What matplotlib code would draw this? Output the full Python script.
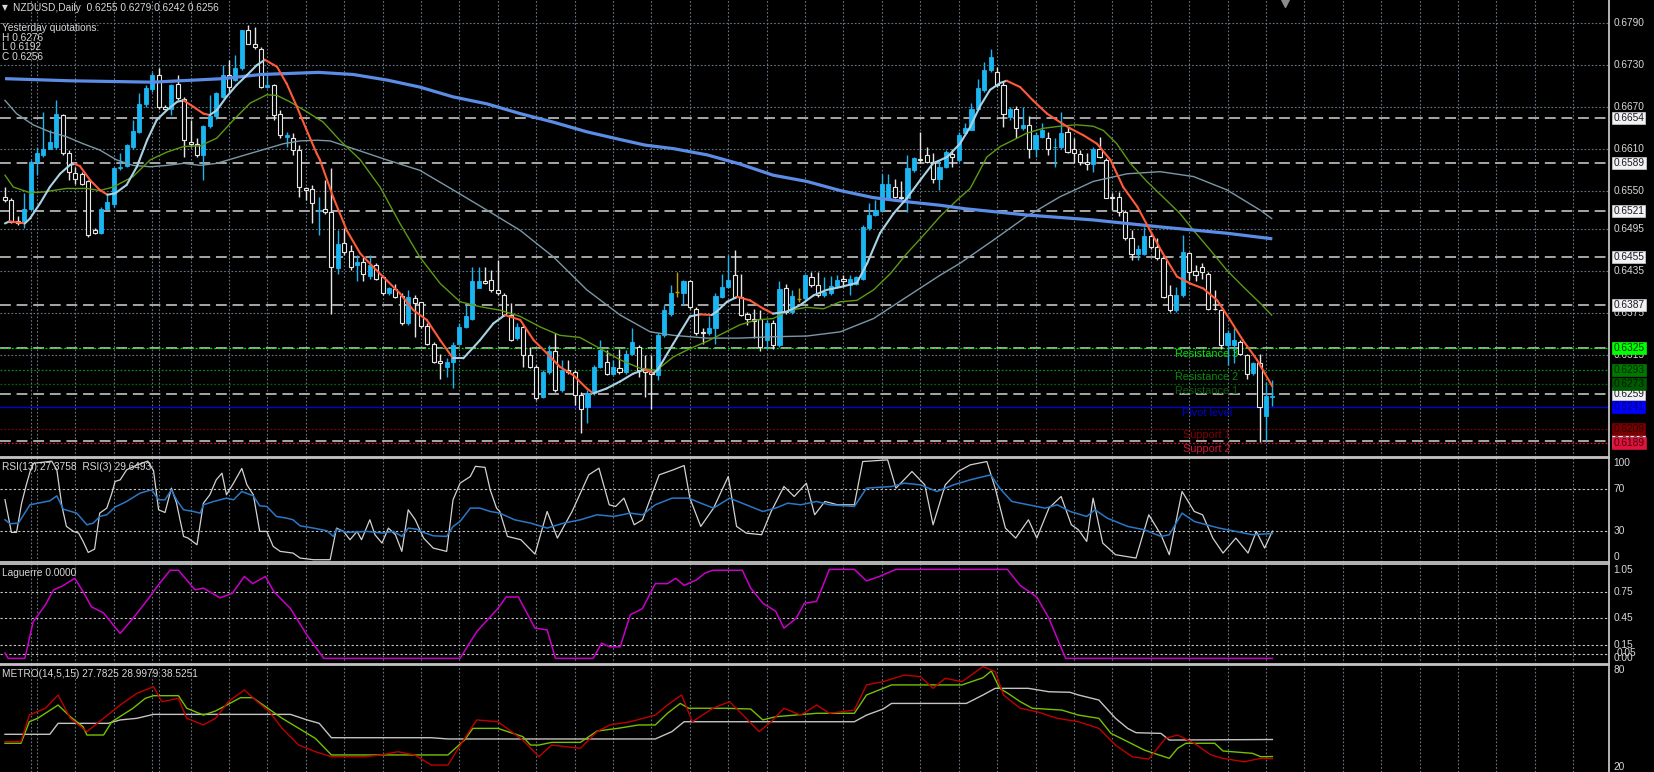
import matplotlib
matplotlib.use("Agg")
import matplotlib.pyplot as plt
import matplotlib.transforms as mtransforms
from matplotlib.collections import LineCollection
import numpy as np

plt.rcParams['font.family'] = ['Liberation Sans', 'DejaVu Sans']

# NZDUSD daily candles, prices in pips (x 1e-4)
open_pips = [
    6541, 6536, 6507, 6505, 6524, 6591, 6601, 6610, 6613, 6658,
    6603, 6575, 6574, 6563, 6493, 6489, 6524, 6531, 6582, 6585,
    6613, 6634, 6674, 6695, 6715, 6670, 6667, 6703, 6681, 6620,
    6617, 6601, 6642, 6656, 6684, 6715, 6708, 6725, 6780, 6760,
    6753, 6698, 6701, 6660, 6627, 6625, 6608, 6553, 6552, 6521,
    6523, 6520, 6439, 6475, 6464, 6443, 6448, 6428, 6443, 6426,
    6403, 6409, 6399, 6361, 6396, 6390, 6356, 6331, 6306, 6298,
    6305, 6331, 6355, 6367, 6411, 6420, 6422, 6408, 6401, 6372,
    6339, 6355, 6315, 6298, 6255, 6291, 6320, 6265, 6293, 6291,
    6258, 6240, 6260, 6298, 6305, 6288, 6296, 6291, 6317, 6327,
    6293, 6291, 6286, 6343, 6374, 6405, 6403, 6420, 6381, 6348,
    6346, 6353, 6398, 6412, 6429, 6398, 6373, 6366, 6366, 6336,
    6360, 6329, 6410, 6377, 6395, 6396, 6427, 6415, 6400, 6403,
    6413, 6423, 6415, 6417, 6424, 6496, 6515, 6522, 6539, 6555,
    6541, 6539, 6579, 6595, 6601, 6591, 6566, 6584, 6602, 6594,
    6632, 6637, 6667, 6694, 6722, 6720, 6701, 6655, 6667, 6639,
    6644, 6610, 6626, 6625, 6612, 6613, 6634, 6609, 6602, 6591,
    6588, 6610, 6594, 6541, 6541, 6520, 6482, 6459, 6460, 6485,
    6470, 6453, 6400, 6379, 6400, 6461, 6435, 6441, 6431, 6381,
    6379, 6329, 6329, 6334, 6315, 6289, 6303, 6227, 6255]
high_pips = [
    6555, 6539, 6513, 6546, 6594, 6613, 6663, 6637, 6679, 6660,
    6608, 6584, 6577, 6565, 6496, 6527, 6546, 6584, 6603, 6617,
    6651, 6689, 6701, 6720, 6725, 6672, 6703, 6715, 6684, 6651,
    6625, 6644, 6687, 6691, 6729, 6737, 6744, 6780, 6787, 6784,
    6756, 6715, 6703, 6665, 6634, 6632, 6615, 6555, 6558, 6541,
    6565, 6582, 6493, 6496, 6472, 6458, 6455, 6458, 6446, 6429,
    6412, 6417, 6403, 6408, 6400, 6391, 6360, 6334, 6317, 6310,
    6334, 6360, 6386, 6441, 6441, 6441, 6437, 6451, 6403, 6389,
    6360, 6358, 6327, 6300, 6293, 6329, 6346, 6308, 6308, 6293,
    6262, 6265, 6300, 6336, 6322, 6308, 6324, 6322, 6353, 6329,
    6315, 6315, 6346, 6386, 6415, 6434, 6422, 6422, 6384, 6353,
    6370, 6403, 6431, 6458, 6465, 6431, 6377, 6381, 6379, 6365,
    6365, 6420, 6417, 6408, 6410, 6431, 6434, 6434, 6427, 6428,
    6429, 6429, 6429, 6428, 6501, 6532, 6536, 6574, 6574, 6567,
    6563, 6601, 6598, 6634, 6613, 6603, 6594, 6608, 6610, 6634,
    6646, 6675, 6710, 6734, 6753, 6727, 6706, 6670, 6671, 6670,
    6656, 6634, 6646, 6634, 6625, 6663, 6641, 6625, 6608, 6603,
    6613, 6627, 6596, 6546, 6548, 6522, 6493, 6472, 6498, 6491,
    6482, 6458, 6415, 6412, 6486, 6462, 6443, 6446, 6434, 6408,
    6381, 6350, 6353, 6336, 6317, 6305, 6317, 6276, 6279]
low_pips = [
    6534, 6503, 6501, 6496, 6522, 6572, 6598, 6609, 6610, 6601,
    6565, 6560, 6558, 6484, 6488, 6488, 6523, 6527, 6579, 6584,
    6610, 6632, 6670, 6691, 6667, 6665, 6658, 6680, 6598, 6613,
    6598, 6565, 6639, 6653, 6682, 6691, 6706, 6722, 6759, 6753,
    6696, 6696, 6651, 6625, 6613, 6601, 6541, 6536, 6503, 6486,
    6517, 6374, 6431, 6458, 6436, 6420, 6420, 6424, 6422, 6400,
    6400, 6396, 6358, 6358, 6341, 6353, 6329, 6303, 6281, 6284,
    6267, 6329, 6353, 6365, 6410, 6417, 6405, 6400, 6370, 6335,
    6336, 6298, 6296, 6250, 6253, 6288, 6262, 6262, 6288, 6243,
    6203, 6217, 6258, 6296, 6286, 6286, 6288, 6288, 6315, 6284,
    6255, 6238, 6279, 6341, 6370, 6398, 6386, 6381, 6343, 6331,
    6343, 6331, 6396, 6410, 6396, 6370, 6358, 6339, 6320, 6324,
    6324, 6327, 6374, 6374, 6391, 6393, 6412, 6398, 6398, 6400,
    6410, 6412, 6400, 6415, 6422, 6493, 6513, 6520, 6537, 6539,
    6536, 6520, 6577, 6589, 6589, 6561, 6551, 6582, 6584, 6591,
    6629, 6636, 6665, 6691, 6720, 6698, 6641, 6651, 6625, 6637,
    6596, 6598, 6625, 6601, 6584, 6610, 6603, 6589, 6586, 6579,
    6577, 6596, 6539, 6522, 6513, 6479, 6451, 6451, 6458, 6467,
    6451, 6396, 6377, 6377, 6398, 6422, 6420, 6424, 6379, 6379,
    6324, 6300, 6303, 6315, 6281, 6286, 6191, 6192, 6242]
close_pips = [
    6536, 6505, 6504, 6524, 6591, 6603, 6610, 6620, 6660, 6603,
    6577, 6567, 6560, 6486, 6490, 6524, 6533, 6582, 6584, 6615,
    6635, 6674, 6696, 6715, 6670, 6667, 6701, 6682, 6622, 6617,
    6601, 6642, 6656, 6689, 6715, 6698, 6725, 6780, 6760, 6756,
    6698, 6701, 6658, 6629, 6629, 6608, 6555, 6551, 6532, 6522,
    6520, 6441, 6474, 6462, 6441, 6448, 6431, 6443, 6424, 6403,
    6410, 6398, 6361, 6398, 6389, 6356, 6331, 6305, 6304, 6305,
    6329, 6355, 6370, 6420, 6420, 6418, 6408, 6403, 6372, 6336,
    6355, 6315, 6298, 6253, 6291, 6321, 6265, 6293, 6291, 6258,
    6238, 6260, 6298, 6322, 6288, 6297, 6291, 6317, 6334, 6293,
    6291, 6287, 6343, 6379, 6403, 6405, 6421, 6384, 6346, 6346,
    6353, 6399, 6412, 6422, 6398, 6372, 6367, 6364, 6327, 6360,
    6329, 6409, 6377, 6399, 6395, 6429, 6415, 6400, 6405, 6413,
    6422, 6420, 6424, 6426, 6498, 6515, 6522, 6560, 6560, 6541,
    6539, 6582, 6596, 6593, 6591, 6567, 6584, 6605, 6598, 6629,
    6639, 6667, 6696, 6722, 6741, 6701, 6660, 6667, 6639, 6644,
    6610, 6629, 6636, 6610, 6613, 6632, 6605, 6603, 6591, 6588,
    6610, 6598, 6540, 6540, 6520, 6482, 6460, 6466, 6485, 6470,
    6453, 6398, 6379, 6400, 6462, 6434, 6429, 6434, 6381, 6380,
    6329, 6346, 6336, 6317, 6288, 6303, 6241, 6256, 6256]

# moving averages: (bar index, pips)
ma_fast = [(0, 6503), (0.7, 6506), (3.1, 6503), (3.9, 6510), (5.5, 6532), (7.0, 6555), (8.6, 6574),
           (10.2, 6587), (10.9, 6588), (11.7, 6585), (13.3, 6565), (14.8, 6551), (16.0, 6544), (17.2, 6546),
           (19.0, 6558), (20.6, 6584), (22.2, 6622), (23.7, 6651), (25.3, 6665), (26.9, 6677), (27.9, 6679),
           (29.4, 6670), (31.0, 6660), (32.0, 6658), (33.1, 6665), (34.6, 6684), (36.2, 6701), (37.8, 6715),
           (39.3, 6729), (40.6, 6737), (42.5, 6727), (44.0, 6703), (45.6, 6670), (47.1, 6637), (48.7, 6603),
           (49.2, 6594), (51.3, 6540), (53.4, 6493), (55.5, 6460), (57.5, 6441), (59.6, 6422), (61.7, 6403),
           (63.8, 6379), (65.9, 6365), (68.0, 6336), (70.0, 6310), (71.6, 6310), (74.2, 6336), (76.3, 6360),
           (78.1, 6372), (80.5, 6365), (82.6, 6336), (84.7, 6317), (86.7, 6298), (88.8, 6286), (90.9, 6267),
           (91.9, 6260), (94.0, 6267), (96.1, 6277), (98.1, 6288), (99.9, 6294), (101.3, 6289), (102.0, 6294),
           (104.4, 6331), (107.0, 6370), (108.6, 6373), (110.4, 6372), (111.2, 6377), (112.8, 6391),
           (114.4, 6398), (116.4, 6393), (118.5, 6381), (120.0, 6374), (122.2, 6377), (124.2, 6386),
           (126.3, 6400), (128.4, 6408), (130.5, 6412), (133.1, 6418), (134.7, 6446), (136.7, 6489),
           (138.8, 6517), (140.9, 6539), (143.0, 6565), (145.0, 6589), (147.2, 6598), (149.2, 6617),
           (150.8, 6641), (152.3, 6670), (153.9, 6694), (155.5, 6704), (156.5, 6707), (158.6, 6698),
           (160.6, 6679), (162.8, 6660), (164.8, 6648), (166.4, 6639), (168.5, 6629), (170.6, 6617),
           (172.7, 6594), (174.7, 6555), (176.9, 6527), (178.9, 6493), (180.9, 6460), (183.1, 6427),
           (185.2, 6417), (187.2, 6410), (189.4, 6393), (191.4, 6365), (193.4, 6336), (195.6, 6308), (198.0, 6270)]
ma_mid = [(0, 6572), (1.3, 6555), (3.9, 6547), (6.0, 6548), (9.6, 6553), (12.8, 6553), (14.8, 6550),
          (16.9, 6555), (20.0, 6570), (22.7, 6594), (25.3, 6605), (27.9, 6613), (30.5, 6614), (33.1, 6625),
          (35.7, 6651), (38.3, 6675), (40.9, 6687), (42.5, 6686), (44.5, 6677), (47.1, 6663), (49.7, 6648),
          (52.3, 6622), (55.5, 6594), (58.6, 6555), (61.7, 6503), (64.8, 6455), (68.0, 6417), (71.1, 6391),
          (74.2, 6384), (77.3, 6379), (80.5, 6370), (83.6, 6355), (86.7, 6343), (89.8, 6340), (93.0, 6324),
          (96.1, 6308), (99.2, 6296), (101.8, 6293), (104.4, 6312), (107.0, 6324), (109.6, 6334),
          (112.2, 6346), (114.8, 6358), (117.4, 6365), (120.0, 6367), (122.6, 6379), (125.3, 6383),
          (127.9, 6381), (130.5, 6391), (133.1, 6393), (135.7, 6408), (138.3, 6431), (140.9, 6460),
          (143.5, 6486), (146.1, 6513), (148.7, 6536), (150.8, 6553), (153.4, 6598), (155.5, 6613),
          (157.5, 6622), (159.6, 6632), (162.2, 6639), (164.8, 6642), (167.4, 6644), (170.0, 6642),
          (171.6, 6636), (173.7, 6617), (175.8, 6589), (178.4, 6563), (180.9, 6541), (183.6, 6517),
          (185.7, 6493), (188.3, 6465), (190.9, 6436), (193.5, 6412), (196.1, 6389), (197.9, 6372)]
ma_slow = [(0, 6679), (1.8, 6660), (4.4, 6644), (7.0, 6634), (9.6, 6627), (12.2, 6617), (14.8, 6608),
           (17.4, 6594), (20.0, 6586), (22.7, 6584), (25.3, 6586), (27.9, 6589), (30.5, 6586), (33.1, 6589),
           (35.7, 6596), (38.3, 6603), (40.9, 6610), (43.5, 6617), (46.1, 6621), (48.7, 6622), (50.8, 6621),
           (54.4, 6610), (59.6, 6594), (64.8, 6579), (70.0, 6551), (75.3, 6522), (80.5, 6493), (85.7, 6455),
           (90.9, 6408), (96.1, 6372), (100.8, 6348), (104.4, 6343), (109.6, 6339), (114.8, 6339),
           (120.0, 6341), (125.3, 6342), (130.5, 6348), (135.7, 6367), (140.9, 6398), (146.1, 6429),
           (149.2, 6446), (154.4, 6479), (159.6, 6513), (164.8, 6541), (170.0, 6563), (175.3, 6574),
           (180.5, 6577), (185.7, 6570), (190.9, 6551), (196.1, 6522), (197.9, 6510)]
ma_long = [(0, 6710), (10, 6707), (23, 6705), (34, 6710), (40, 6716), (49, 6719), (54.4, 6716), (59.7, 6708),
           (64.8, 6698), (70, 6684), (75.3, 6674), (80.5, 6660), (85.6, 6648), (90.9, 6634), (96.1, 6623),
           (100, 6615), (104.4, 6610), (109.7, 6601), (114.8, 6588), (120, 6572), (125.3, 6563), (130.5, 6550),
           (135.6, 6540), (140.9, 6534), (146.1, 6529), (150, 6524), (159.7, 6515), (170, 6508), (180.5, 6498),
           (190.9, 6489), (198, 6481)]

# price levels
grid_prices = [0.6790, 0.6730, 0.6670, 0.6610, 0.6550, 0.6495, 0.6435, 0.6375, 0.6315]
marked_levels = [0.6654, 0.6589, 0.6521, 0.6455, 0.6387, 0.6325, 0.6259, 0.6192]
pivot_names = ['Resistance 3', 'Resistance 2', 'Resistance 1', 'Pivot level', 'Support 1', 'Support 2']
pivot_values = [0.6325, 0.6293, 0.6273, 0.6241, 0.6209, 0.6189]
pivot_colors = ['#00e000', '#0a8a0a', '#0b5e0b', '#0000d0', '#800000', '#d01434']
pivot_box = ['#00ff00', '#007800', '#005800', '#0000ff', '#780000', '#dc143c']
pivot_box_text = ['#003000', '#002800', '#001c00', '#000070', '#300000', '#500010']

# oscillators: (bar index, value)
rsi3 = [(0, 60), (1.0, 28.5), (1.8, 28.5), (2.6, 56.6), (3.4, 75.8), (4.0, 88.6), (4.5, 95), (6.0, 96),
        (7.3, 97), (8.1, 88.6), (8.9, 53.4), (9.6, 34.2), (10.7, 29.4), (11.5, 27.8), (12.2, 19.8),
        (13.0, 9.2), (14.0, 12.4), (14.8, 47), (15.9, 51.8), (16.7, 66.2), (17.2, 77.4), (18.0, 79),
        (19.0, 88.6), (20.5, 93), (22.3, 97), (23.2, 88), (24.0, 50.2), (25.0, 47.6), (26.0, 71), (26.8, 56.6),
        (27.9, 24.6), (28.6, 23), (30.0, 16.6), (31.0, 56.6), (32.0, 64.6), (33.0, 79), (33.9, 85.4),
        (34.6, 64.6), (35.7, 75.8), (37.0, 90), (37.8, 74.2), (38.8, 64.6), (39.8, 29.4), (40.9, 29.4),
        (41.9, 15), (43.0, 10.2), (45.0, 8.6), (46.1, 3.8), (48.2, 2.2), (50.8, 2.2), (51.8, 32.6),
        (52.9, 29.4), (53.9, 21.4), (55.0, 29.4), (55.7, 21.4), (57.0, 40.6), (57.8, 26.2), (58.9, 18.2),
        (59.9, 32.6), (61.0, 26.2), (62.0, 10.2), (63.0, 50.2), (64.1, 40.6), (65.4, 23), (66.9, 13.4),
        (69.0, 10.2), (70.0, 59.8), (71.1, 75.8), (72.7, 82.2), (73.5, 92), (75.0, 91), (75.8, 69.4),
        (76.8, 51.8), (77.3, 48.6), (78.5, 24.6), (80.6, 21.4), (82.8, 7.6), (84.7, 48.6), (86.3, 23),
        (88.6, 48.6), (91.2, 83.8), (92.8, 90.2), (94.4, 55), (95.4, 53.4), (96.7, 61.4), (98.3, 35.8),
        (99.6, 40.6), (102.2, 83.8), (104.4, 88.6), (106.1, 92.8), (107.0, 61.4), (108.7, 34.2),
        (110.7, 51.8), (113.0, 82.2), (114.3, 34.2), (115.8, 27.8), (118.2, 26.2), (119.7, 48.6),
        (121.7, 72.6), (123.3, 63), (125.2, 75.8), (126.5, 45.4), (128.1, 58.2), (130.1, 55), (132.7, 55),
        (134.0, 96.6), (137.9, 98.2), (139.2, 71), (141.7, 87), (143.7, 74.2), (145.0, 35.8), (146.9, 74.2),
        (148.9, 87), (150.8, 93.4), (153.4, 96.6), (154.7, 71), (156.3, 32.6), (157.9, 23), (159.9, 40.6),
        (161.2, 23), (163.1, 51.8), (165.0, 63), (166.6, 35.8), (167.7, 31), (169.0, 19.8), (170.0, 61.4),
        (171.5, 18.2), (173.5, 7), (176.7, 3.8), (178.7, 45.4), (180.6, 26.2), (181.9, 7), (183.9, 67.8),
        (185.8, 48.6), (187.1, 45.4), (188.7, 23), (190.3, 8.6), (192.3, 23), (194.2, 8.6), (195.5, 29.4),
        (196.8, 13.4), (198.0, 29.6)]
rsi13 = [(0, 40.6), (0.8, 36.8), (2.1, 37.4), (3.9, 55), (7.0, 58.8), (8.1, 63.6), (9.1, 50.8), (11.2, 47),
         (12.8, 35.8), (13.8, 37.4), (14.8, 43.8), (15.9, 45.4), (17.2, 52.8), (19.0, 58.2), (21.1, 66.2),
         (22.9, 69.4), (24.0, 59.8), (25.0, 59.8), (26.0, 69.4), (26.8, 59.8), (27.9, 50.2), (29.4, 48.6),
         (30.5, 47), (31.0, 55), (32.6, 58.2), (34.6, 61.4), (35.7, 59.8), (37.0, 67.8), (38.8, 63.6),
         (39.8, 54), (40.9, 53.4), (42.4, 43.8), (44.0, 42.2), (45.0, 40.6), (46.1, 34.8), (48.2, 32.6),
         (50.3, 30), (51.3, 24.6), (51.8, 31.6), (53.4, 28.4), (56.5, 29.4), (59.1, 27.8), (60.7, 29.4),
         (62.0, 24.6), (63.0, 32.6), (64.3, 31.6), (65.4, 28.4), (66.9, 25.2), (69.0, 24.6), (70.0, 34.2),
         (71.1, 39), (72.7, 51.8), (74.2, 51.8), (75.8, 48.6), (77.3, 47), (79.6, 40.6), (82.1, 37.4),
         (84.7, 32.6), (87.3, 37.4), (89.9, 40.6), (92.5, 45.4), (95.1, 43.8), (97.7, 47), (99.6, 45.4),
         (101.6, 55), (104.2, 61.4), (106.8, 61.4), (108.7, 56.6), (110.7, 51.8), (113.2, 61.4), (115.8, 55),
         (118.4, 48.6), (120.4, 51.8), (122.3, 56.6), (124.3, 55), (126.8, 58.2), (128.8, 55), (132.7, 53.4),
         (134.6, 71), (138.5, 72.6), (140.5, 75.8), (143.0, 74.2), (145.6, 67.8), (148.2, 74.2), (150.8, 79),
         (154.0, 83.8), (155.4, 71), (157.3, 58.2), (159.9, 55), (162.5, 51.8), (164.4, 55), (166.4, 48.6),
         (169.0, 43.8), (170.3, 50.2), (172.2, 42.2), (175.4, 34.2), (178.0, 31), (180.6, 24.6), (181.9, 26.2),
         (183.9, 47), (185.8, 39), (187.7, 35.8), (189.7, 32.6), (192.3, 29.4), (194.9, 26.2), (198.0, 27.4)]
laguerre = [(0, 0.06), (0.5, 0), (3.1, 0), (4.4, 0.41), (6.3, 0.6), (7.6, 0.77), (8.9, 0.81), (10.9, 0.9),
            (12.2, 0.75), (13.5, 0.58), (15.4, 0.51), (18.0, 0.28), (20.0, 0.45), (22.5, 0.68), (23.8, 0.81),
            (25.8, 0.99), (27.1, 0.99), (29.7, 0.77), (31.0, 0.79), (33.6, 0.68), (35.5, 0.73), (37.4, 0.92),
            (38.7, 0.84), (40.7, 0.92), (42.0, 0.75), (44.6, 0.56), (47.2, 0.26), (49.8, 0), (71.1, 0),
            (73.7, 0.3), (77.0, 0.56), (78.3, 0.69), (80.2, 0.69), (82.8, 0.34), (84.7, 0.32), (86.0, 0),
            (91.9, 0), (93.2, 0.17), (94.5, 0.13), (96.1, 0.13), (97.7, 0.49), (99.6, 0.56), (101.6, 0.84),
            (103.5, 0.84), (104.8, 0.9), (106.1, 0.82), (108.0, 0.88), (109.4, 0.96), (110.6, 0.99),
            (115.2, 0.99), (116.5, 0.79), (118.4, 0.62), (120.4, 0.53), (121.7, 0.34), (123.6, 0.45),
            (124.9, 0.62), (126.8, 0.64), (128.8, 1.0), (132.7, 1.0), (134.6, 0.87), (136.6, 0.92),
            (139.2, 1.0), (156.6, 1.0), (158.6, 0.82), (161.2, 0.69), (163.1, 0.45), (165.7, 0), (198.0, 0)]
metro_slow = [(0, 41.4), (7.0, 41.4), (8.3, 47.5), (16.1, 47.5), (18.0, 49.4), (20.6, 50.3), (23.2, 52.5),
              (44.6, 52.5), (47.2, 49.4), (49.1, 47.5), (51.0, 39.5), (66.6, 39.5), (69.2, 38.8), (101.6, 38.8),
              (104.2, 42.9), (106.1, 48.4), (132.7, 48.4), (134.6, 52.1), (137.2, 55.5), (138.5, 58.6),
              (150.2, 58.6), (152.8, 63.3), (154.7, 67.0), (159.9, 67.0), (163.1, 65.1), (166.4, 64.8),
              (167.7, 63.3), (170.9, 60.5), (173.5, 50.3), (175.4, 44.7), (176.7, 42.3), (180.6, 41.9),
              (181.9, 38.2), (198.0, 38.5)]
metro_green = [(0, 36.4), (2.5, 36.4), (3.8, 48.4), (5.1, 50.3), (8.3, 57.7), (10.2, 51.2), (12.2, 45.6),
               (12.8, 41.0), (15.4, 41.0), (16.7, 48.4), (20.0, 55.9), (21.9, 61.4), (23.2, 62.9), (27.1, 62.9),
               (28.4, 55.9), (31.0, 52.1), (32.9, 54.4), (36.8, 61.8), (38.7, 61.8), (40.7, 56.8), (43.3, 50.3),
               (45.9, 44.7), (48.5, 39.1), (51.0, 29.9), (69.2, 29.9), (71.8, 38.2), (73.1, 44.7), (77.0, 44.7),
               (80.9, 40.1), (82.1, 35.4), (83.4, 35.4), (85.4, 36.9), (89.9, 36.9), (92.5, 43.2), (95.7, 44.7),
               (99.0, 46.6), (101.6, 46.6), (103.5, 53.1), (105.5, 58.6), (106.8, 55.9), (112.6, 55.9),
               (116.5, 55.5), (118.4, 49.4), (120.4, 51.2), (126.8, 53.1), (132.7, 53.1), (134.6, 63.3),
               (137.2, 67.0), (138.5, 68.9), (149.5, 68.9), (152.8, 72.9), (154.1, 76.7), (155.4, 67.0),
               (156.7, 64.2), (158.6, 59.6), (160.5, 55.9), (165.1, 54.9), (167.7, 52.1), (170.9, 50.3),
               (172.8, 41.9), (175.4, 37.3), (178.0, 32.6), (181.9, 28.0), (183.2, 33.6), (184.5, 36.4),
               (189.0, 36.4), (190.3, 32.1), (194.9, 30.8), (196.2, 28.9), (198.0, 29.0)]
metro_red = [(0, 37.3), (2.5, 37.3), (3.8, 52.1), (6.3, 55.9), (8.3, 63.3), (10.2, 50.3), (12.8, 42.9),
             (15.4, 50.3), (18.0, 57.7), (20.6, 64.2), (23.2, 67.9), (24.5, 59.6), (27.1, 61.4), (28.4, 50.3),
             (31.0, 46.6), (32.9, 50.3), (34.9, 59.6), (37.4, 66.1), (39.4, 59.6), (41.3, 54.0), (43.3, 44.7),
             (45.9, 35.4), (48.5, 31.7), (51.0, 28.9), (56.2, 28.9), (58.8, 29.9), (61.4, 31.7), (64.0, 29.9),
             (66.6, 24.3), (69.2, 24.3), (71.8, 39.1), (73.7, 49.4), (77.0, 48.4), (80.9, 38.2), (83.4, 28.9),
             (85.4, 35.4), (89.9, 33.6), (92.5, 42.9), (94.5, 46.6), (97.7, 48.4), (101.6, 52.1), (103.5, 57.7),
             (105.7, 63.3), (107.4, 48.4), (110.6, 55.9), (113.2, 59.6), (115.8, 50.3), (117.8, 42.9),
             (119.7, 48.4), (121.7, 55.9), (124.3, 52.1), (126.8, 57.7), (128.8, 53.1), (132.7, 54.9),
             (134.6, 68.9), (137.2, 70.7), (140.5, 74.4), (143.0, 73.5), (145.0, 67.0), (146.9, 72.6),
             (149.5, 70.7), (152.8, 79.1), (154.7, 76.3), (156.0, 63.3), (158.6, 55.9), (161.2, 54.0),
             (164.4, 50.3), (167.7, 48.4), (170.9, 44.7), (173.5, 35.4), (176.1, 28.9), (178.7, 27.6),
             (181.3, 39.1), (183.2, 41.0), (185.8, 36.4), (188.4, 29.9), (190.3, 28.0), (193.6, 26.1),
             (196.2, 28.0), (198.0, 27.8)]

vgrid = [4, 24] + list(range(5, 251, 6))

W, H = 1654, 772
BG = 'black'
GRID = '#687684'
TXT = '#d8d8d8'
BULL = '#19b6f2'
BEAR = '#e6e6e6'
FS = 7.3

fig = plt.figure(figsize=(W / 100, H / 100), dpi=100, facecolor=BG)


def panel(top, bottom, ylim):
    ax = fig.add_axes([0, 1 - bottom / H, 1609 / W, (bottom - top) / H])
    ax.set_facecolor(BG)
    ax.set_xlim(-0.78, 250.6)
    ax.set_ylim(*ylim)
    ax.set_xticks([])
    ax.set_yticks([])
    ax.spines['left'].set_visible(False)
    for s in ['right', 'top', 'bottom']:
        ax.spines[s].set_color('#c4c4c4')
        ax.spines[s].set_linewidth(1.3)
    for g in vgrid:
        ax.axvline(g, color=GRID, lw=0.8, ls=(0, (1.5, 1.8)), zorder=0)
    return ax


def rlabel(ax, y, s, va='center', fc=None, tc=TXT, z=5, dx=0.0):
    tr = mtransforms.blended_transform_factory(ax.transAxes, ax.transData)
    kw = {}
    if fc is not None:
        kw['bbox'] = dict(boxstyle='square,pad=0.1', fc=fc, ec='#d0d0d0' if fc == '#f2f2f2' else fc, lw=0.5)
    ax.text(1.0028 + dx, y, s, transform=tr, va=va, ha='left', fontsize=FS, color=tc,
            clip_on=False, zorder=z, **kw)


def xy(pairs, scale=1.0):
    a = np.array(pairs, dtype=float)
    return a[:, 0], a[:, 1] * scale


# ---------------- main price panel ----------------
ax = panel(0, 457, (0.61690, 0.68225))
ax.spines['top'].set_visible(False)

for p in grid_prices:
    ax.axhline(p, color=GRID, lw=0.8, ls=(0, (1.5, 1.8)), zorder=0)
for p in marked_levels:
    ax.axhline(p, color='#b4b4b4', lw=1.3, ls=(0, (6, 3.2)), zorder=1)
for v, c in zip(pivot_values, pivot_colors):
    if c == '#0000d0':
        ax.axhline(v, color='#0000e0', lw=0.9, zorder=1)
    else:
        ax.axhline(v, color=c, lw=0.9, ls=(0, (1.5, 1.5)), zorder=1)

o = np.array(open_pips) / 1e4
h = np.array(high_pips) / 1e4
l = np.array(low_pips) / 1e4
c = np.array(close_pips) / 1e4
idx = np.arange(len(c))
up = c > o
dn = c < o
fl = c == o

ax.vlines(idx[up], l[up], h[up], color=BULL, lw=1.0, zorder=2)
ax.vlines(idx[dn], l[dn], h[dn], color=BEAR, lw=1.0, zorder=2)
ax.vlines(idx[fl], l[fl], h[fl], color='#b4a000', lw=1.0, zorder=2)
ax.bar(idx[up], (c - o)[up], bottom=o[up], width=0.64, color=BULL, edgecolor=BULL, lw=0.6, zorder=3)
ax.bar(idx[dn], (o - c)[dn], bottom=c[dn], width=0.64, facecolor=BG, edgecolor=BEAR, lw=0.8, zorder=3)
ax.hlines(o[fl], idx[fl] - 0.32, idx[fl] + 0.32, color='#b4a000', lw=1.0, zorder=3)

mx, my = xy(ma_slow, 1e-4)
ax.plot(mx, my, color='#7a98a6', lw=1.0, zorder=4)
mx, my = xy(ma_mid, 1e-4)
ax.plot(mx, my, color='#5c9a12', lw=1.0, zorder=4)
mx, my = xy(ma_long, 1e-4)
ax.plot(mx, my, color='#5b8de6', lw=2.3, zorder=4, solid_capstyle='butt')

fx, fy = xy(ma_fast, 1e-4)
segs = [[(fx[k], fy[k]), (fx[k + 1], fy[k + 1])] for k in range(len(fx) - 1)]
cols = ['#ff5a3a' if fy[k + 1] < fy[k] else '#a9d3e4' for k in range(len(fx) - 1)]
ax.add_collection(LineCollection(segs, colors=cols, linewidths=1.5, zorder=5, capstyle='round'))

for name, v, col in zip(pivot_names, pivot_values, pivot_colors):
    ax.annotate(name, (187.8, v), xytext=(0, -1.0), textcoords='offset points',
                ha='center', va='top', fontsize=7.8, color=col, zorder=6)

for p in grid_prices:
    rlabel(ax, p, '%.4f' % p, z=5)
for p in marked_levels:
    if p in pivot_values:
        continue
    rlabel(ax, p, '%.4f' % p, fc='#f2f2f2', tc='#1a1a2a', z=6)
for v, bc, tc in zip(pivot_values, pivot_box, pivot_box_text):
    rlabel(ax, v, '%.4f' % v, fc=bc, tc=tc, z=7)

# chart shift marker
ax.plot([200.0], [0.68225 - 0.0004], marker='v', markersize=6, color='#8c8c8c', clip_on=False, zorder=6)

fig.text(2 / W, 1 - 8 / H, '\u25bc', fontsize=5.5, color=TXT, va='center', family=['DejaVu Sans'])
fig.text(13 / W, 1 - 8 / H, 'NZDUSD,Daily  0.6255 0.6279 0.6242 0.6256', fontsize=FS, color=TXT, va='center')
for k, s in enumerate(['Yesterday quotations:', 'H 0.6276', 'L 0.6192', 'C 0.6256']):
    fig.text(2 / W, 1 - (28 + 9.6 * k) / H, s, fontsize=FS, color=TXT, va='center')

# ---------------- RSI panel ----------------
ar = panel(458, 562, (0, 100))
for lv in [70, 30]:
    ar.axhline(lv, color='#c8c8c8', lw=0.8, ls=(0, (2, 2)), zorder=1)
rx, ry = xy(rsi3)
ar.plot(rx, ry, color='#d2d2d2', lw=0.9, zorder=3)
rx, ry = xy(rsi13)
ar.plot(rx, ry, color='#2a78c6', lw=1.1, zorder=4)
rlabel(ar, 100, '100', va='top')
rlabel(ar, 70, '70')
rlabel(ar, 30, '30')
rlabel(ar, 0, '0', va='bottom')
fig.text(2 / W, 1 - 467 / H, 'RSI(13) 27.3758  RSI(3) 29.6493', fontsize=FS, color=TXT, va='center')

# ---------------- Laguerre panel ----------------
al = panel(563.5, 664, (-0.063, 1.066))
for lv in [0.75, 0.45, 0.15, 0.05]:
    al.axhline(lv, color='#c8c8c8', lw=0.8, ls=(0, (2, 2)), zorder=1)
lx, ly = xy(laguerre)
al.plot(lx, ly, color='#c800c8', lw=1.1, zorder=3)
rlabel(al, 1.05, '1.05', va='top')
for lv in [0.75, 0.45, 0.15]:
    rlabel(al, lv, '%.2f' % lv)
rlabel(al, 0.0, '0.00', va='center')
rlabel(al, 0.06, '0.05', va='center', dx=0.002)
fig.text(2 / W, 1 - 573 / H, 'Laguerre 0.0000', fontsize=FS, color=TXT, va='center')

# ---------------- METRO panel ----------------
am = panel(665, 772, (20.4, 80))
am.spines['bottom'].set_visible(False)
gx, gy = xy(metro_slow)
am.plot(gx, gy, color='#c4c4c4', lw=1.0, zorder=3)
gx, gy = xy(metro_green)
am.plot(gx, gy, color='#78c000', lw=1.0, zorder=4)
gx, gy = xy(metro_red)
am.plot(gx, gy, color='#c00000', lw=1.0, zorder=5)
rlabel(am, 80, '80', va='top')
rlabel(am, 20.4, '20', va='bottom')
fig.text(2 / W, 1 - 674 / H, 'METRO(14,5,15) 27.7825 28.9979 38.5251', fontsize=FS, color=TXT, va='center')

fig.savefig('out.png', dpi=100, facecolor=BG)
